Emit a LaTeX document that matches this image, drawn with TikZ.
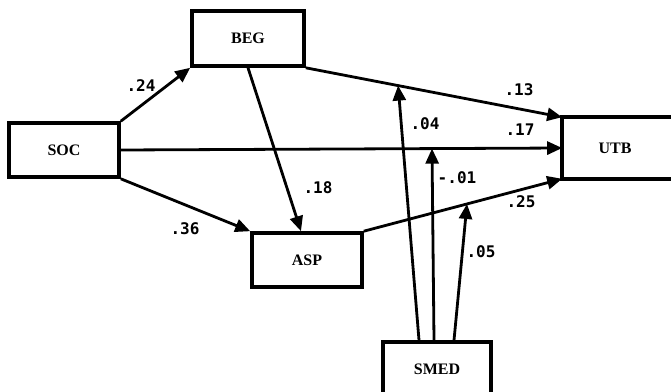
\documentclass[tikz,border=0pt]{standalone}
\usepackage{fontspec}
\setmainfont{Liberation Serif}
\newfontfamily\coeffont{DejaVu Sans Mono}
\usetikzlibrary{arrows.meta, calc, positioning}

\tikzset{
  var/.style={draw, line width=3.6pt, minimum width=110, minimum height=54,
    inner sep=0pt, font=\bfseries\fontsize{16}{18}\selectfont},
  path/.style={line width=2.8pt, -{Triangle[length=15pt, width=13pt]}},
  coef/.style={inner sep=0pt, font=\coeffont\bfseries\fontsize{16}{18}\selectfont}
}

\begin{document}
\begin{tikzpicture}[x=1pt, y=-1pt]
  \useasboundingbox (0,0) rectangle (671,391);

  % variables
  \node[var] (soc) at (64,150) {SOC};
  \node[var, minimum width=112, minimum height=55] (beg) at (248,38.5) {BEG};
  \node[var] (asp) at (307,260) {ASP};
  \node[var, minimum width=108] (smed) at (437,369) {SMED};
  \node[var, draw=none, minimum width=102, minimum height=58] (utb) at (615,148) {UTB};
  \draw[line width=3.6pt] (utb.north west) ++(150,0) -- (utb.north west)
    -- (utb.south west) -- ++(150,0);

  % paths
  \draw[path] (soc.north east) -- (beg.south west);
  \draw[path] (soc.east) -- (utb.west);
  \draw[path] (soc.south east) -- (asp.north west);
  \draw[path] (beg.south) -- ($(asp.north)+(-6,0)$);
  \draw[path] (beg.south east) -- (utb.north west);
  \draw[path] (asp.north east) -- (utb.south west);

  % points on the paths that SMED points at
  \path (beg.south east) -- (utb.north west) coordinate[pos=0.36] (m1);
  \path (soc.east) -- (utb.west) coordinate[pos=0.705] (m2);
  \path (asp.north east) -- (utb.south west) coordinate[pos=0.52] (m3);

  \draw[path] ($(smed.north)+(-18,0)$) -- (m1);
  \draw[path] ($(smed.north)+(-3,0)$) -- (m2);
  \draw[path] ($(smed.north)+(17,0)$) -- (m3);

  % coefficients
  \node[coef] (c24) at (141,86) {.24};
  \node[coef] (c36) at (185,229) {.36};
  \node[coef] (c18) at (318,188) {.18};
  \node[coef] (c13) at (519,90) {.13};
  \node[coef] (c17) at (520,130) {.17};
  \node[coef] (c25) at (521,202) {.25};
  \node[coef] (c04) at (425,124) {.04};
  \node[coef] (c01) at (457,178) {-.01};
  \node[coef] (c05) at (481,252) {.05};
\end{tikzpicture}
\end{document}
